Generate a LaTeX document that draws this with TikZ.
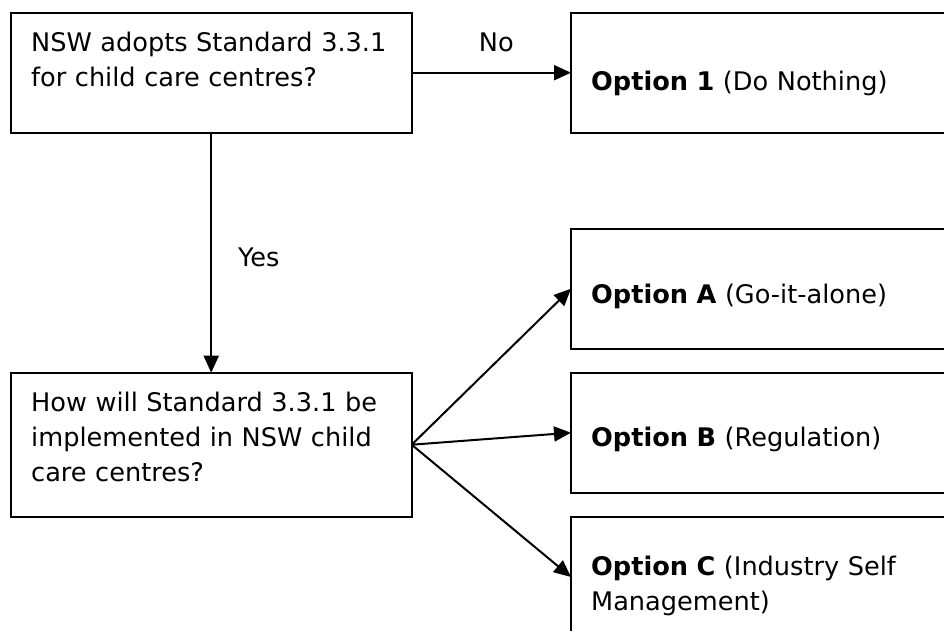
\documentclass[tikz,border=0pt]{standalone}
\usepackage{fontspec}
\setmainfont{DejaVu Sans}
\usetikzlibrary{arrows.meta}

\begin{document}
\begin{tikzpicture}[x=1pt,y=-1pt,
		box/.style={draw,line width=2.2pt,inner sep=0pt,outer sep=0pt,anchor=north west},
		txt/.style={inner sep=0pt,anchor=base west,align=left,text width=380pt,font=\fontsize{25.6}{35}\selectfont},
		lbl/.style={inner sep=0pt,font=\fontsize{25.6}{35}\selectfont},
		arr/.style={line width=2pt,-{Triangle[length=17pt,width=15pt]}}]
		\clip (0,0) rectangle (944,630);
		% questions
		\node[box,minimum width=401pt,minimum height=120pt] (adopt) at (10.7,12.7) {};
		\node[box,minimum width=401pt,minimum height=144pt] (howimpl) at (10.7,372.7) {};
		\node[txt] (adopttxt) at (31,51.7) {NSW adopts Standard 3.3.1\\for child care centres?};
		\node[txt] (howtxt) at (31,411.7) {How will Standard 3.3.1 be\\implemented in NSW child\\care centres?};
		% options
		\node[box,minimum width=400pt,minimum height=120pt] (opt1) at (571,12.7) {};
		\node[box,minimum width=400pt,minimum height=120pt] (optA) at (571,228.7) {};
		\node[box,minimum width=400pt,minimum height=120pt] (optB) at (571,372.7) {};
		\node[box,minimum width=400pt,minimum height=120pt] (optC) at (571,517) {};
		\node[txt] (opt1txt) at (591,90) {\textbf{Option 1} (Do Nothing)};
		\node[txt] (optAtxt) at (591,303.3) {\textbf{Option A} (Go-it-alone)};
		\node[txt] (optBtxt) at (591,446.7) {\textbf{Option B} (Regulation)};
		\node[txt] (optCtxt) at (591,575) {\textbf{Option C} (Industry Self\\Management)};
		% arrows
		\draw[arr] (adopt.east) -- node[lbl,anchor=base,xshift=5pt,yshift=21pt] (no) {No} (opt1.west);
		\draw[arr] (adopt.south) -- node[lbl,anchor=base west,xshift=26pt,yshift=-14pt] (yes) {Yes} (howimpl.north);
		\draw[arr] (howimpl.east) -- (optA.west);
		\draw[arr] (howimpl.east) -- (optB.west);
		\draw[arr] (howimpl.east) -- (optC.west);
	\end{tikzpicture}
\end{document}
